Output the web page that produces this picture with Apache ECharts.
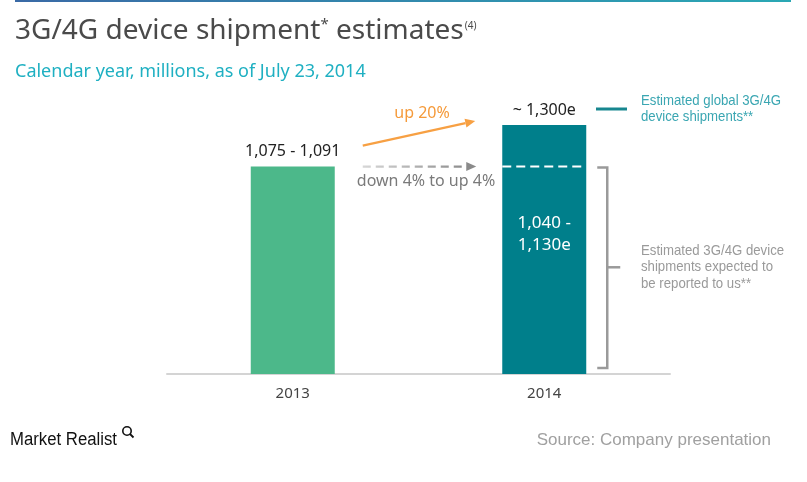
<!DOCTYPE html>
<html><head><meta charset="utf-8">
<script src="https://cdn.jsdelivr.net/npm/echarts@6/dist/echarts.min.js"></script>
<style>html,body{margin:0;padding:0;background:#fff}#c{width:807px;height:482px}</style>
</head><body><div id="c"></div>
<script>
const categories = ['2013', '2014'];
const shipments = [1083, 1300];
const barLabels = ['1,075 - 1,091', '~ 1,300e'];
const reportedRange = '1,040 -\n1,130e';
const reportedLevel = 1083;
const upLabel = 'up 20%';
const flatLabel = 'down 4% to up 4%';
const globalNote = 'Estimated global 3G/4G\ndevice shipments**';
const reportedNote = 'Estimated 3G/4G device\nshipments expected to\nbe reported to us**';
const barColors = ['#4cb88a', '#007f8b'];

const FONT = "'Noto Sans', 'DejaVu Sans', sans-serif";
const SANS = "'Liberation Sans', Arial, sans-serif";

const chart = echarts.init(document.getElementById('c'), null, {renderer: 'canvas'});
chart.setOption({
  animation: false,
  grid: {left: 167, right: 137, top: 125, bottom: 108},
  xAxis: {
    type: 'category', data: categories,
    axisLine: {lineStyle: {color: '#d4d4d4', width: 2}},
    axisTick: {show: false},
    axisLabel: {color: '#444', fontSize: 15, fontFamily: FONT, margin: 12}
  },
  yAxis: {type: 'value', min: 0, max: 1300, show: false, splitLine: {show: false}},
  series: [{
    type: 'bar', barWidth: 84,
    data: shipments.map((v, i) => ({value: v, itemStyle: {color: barColors[i]}})),
    label: {
      show: true, position: 'top', distance: 7,
      formatter: p => barLabels[p.dataIndex],
      color: '#222', fontSize: 16, fontFamily: FONT
    }
  }]
});

const px = (i, v) => chart.convertToPixel({xAxisIndex: 0, yAxisIndex: 0}, [i, v]);
const [x0, yTop0] = px(0, shipments[0]);
const [x1, yTop1] = px(1, shipments[1]);
const [, yBase] = px(0, 0);
const [, yLevel] = px(1, reportedLevel);
const half = 42;

function arrow(xs, ys, xe, ye, color, dashed, gradient) {
  const ang = Math.atan2(ye - ys, xe - xs);
  const L = 10, W = 4.5;
  const bx = xe - L * Math.cos(ang), by = ye - L * Math.sin(ang);
  const nx = -Math.sin(ang), ny = Math.cos(ang);
  const stroke = gradient ? new echarts.graphic.LinearGradient(0, 0, 1, 0, [{offset: 0, color: gradient[0]}, {offset: 1, color: gradient[1]}]) : color;
  return [
    {type: 'line', z: 10, shape: {x1: xs, y1: ys, x2: bx, y2: by}, style: {stroke: stroke, lineWidth: 2.2, lineDash: dashed ? [8, 5] : null}},
    {type: 'polygon', z: 10, shape: {points: [[xe, ye], [bx + nx * W, by + ny * W], [bx - nx * W, by - ny * W]]}, style: {fill: color}}
  ];
}

const g = [];
// top gradient rule
g.push({type: 'rect', shape: {x: 15, y: 0, width: 776, height: 2},
  style: {fill: new echarts.graphic.LinearGradient(0, 0, 1, 0, [{offset: 0, color: '#3a6aa6'}, {offset: 1, color: '#2aa8b4'}])}});
// title
g.push({type: 'text', x: 15, y: 31, style: {
  text: '{t|3G/4G device shipment}{s|*}{t| estimates}{u|(4)}',
  verticalAlign: 'middle',
  rich: {
    t: {fontSize: 28, fontFamily: FONT, fill: '#4a4a4a'},
    s: {fontSize: 15, fontFamily: FONT, fill: '#4a4a4a', verticalAlign: 'top'},
    u: {fontSize: 10, fontFamily: FONT, fill: '#4a4a4a', verticalAlign: 'top', padding: [4, 0, 0, 1]}
  }}});
// subtitle
g.push({type: 'text', x: 15, y: 72, style: {text: 'Calendar year, millions, as of July 23, 2014', fontSize: 18, fontFamily: FONT, fill: '#1fb0c2', verticalAlign: 'middle'}});

// white dashed line on 2014 bar at 2013 level
g.push({type: 'line', z: 10, shape: {x1: x1 - half, y1: yLevel, x2: x1 + half, y2: yLevel}, style: {stroke: '#fff', lineWidth: 2, lineDash: [9, 5]}});
// inner label
g.push({type: 'text', z: 10, x: x1, y: yLevel + 68, style: {text: reportedRange, fontSize: 17, fontFamily: FONT, fill: '#fff', align: 'center', verticalAlign: 'middle', lineHeight: 22}});

// orange arrow
const ax0 = x0 + half + 28, ax1 = x1 - half - 27;
g.push(...arrow(ax0, yTop0 - 21, ax1, yTop1 - 4, '#f7a043', false));
g.push({type: 'text', x: (ax0 + ax1) / 2 + 3, y: yTop1 - 12, style: {text: upLabel, fontSize: 16, fontFamily: FONT, fill: '#f59a3a', align: 'center', verticalAlign: 'middle'}});
// gray dashed arrow
g.push(...arrow(ax0, yLevel, ax1 + 1, yLevel, '#8a8a8a', true, ['#d8d8d8', '#8a8a8a']));
g.push({type: 'text', x: (ax0 + ax1) / 2 + 7, y: yLevel + 15, style: {text: flatLabel, fontSize: 16, fontFamily: FONT, fill: '#7a7a7a', align: 'center', verticalAlign: 'middle'}});

// global marker + note
g.push({type: 'line', shape: {x1: 596, y1: yTop1 - 16, x2: 627, y2: yTop1 - 16}, style: {stroke: '#17868f', lineWidth: 3}});
g.push({type: 'text', x: 641, y: yTop1 - 16, scaleX: 0.88, style: {text: globalNote, fontSize: 15, fontFamily: SANS, fill: '#3aa6b2', verticalAlign: 'middle', lineHeight: 16.5}});

// bracket
const bx = x1 + half + 21;
const yb1 = yBase - 6;
g.push({type: 'polyline', shape: {points: [[bx - 10, yLevel + 1], [bx, yLevel + 1], [bx, yb1], [bx - 10, yb1]]}, style: {stroke: '#9a9a9a', lineWidth: 2.5, fill: null}});
g.push({type: 'line', shape: {x1: bx, y1: (yLevel + yb1) / 2, x2: bx + 13, y2: (yLevel + yb1) / 2}, style: {stroke: '#9a9a9a', lineWidth: 2.5}});
g.push({type: 'text', x: 641, y: (yLevel + yb1) / 2, scaleX: 0.88, style: {text: reportedNote, fontSize: 15, fontFamily: SANS, fill: '#9a9a9a', verticalAlign: 'middle', lineHeight: 16.5}});

// footer
g.push({type: 'text', x: 10, y: 440, scaleX: 0.93, style: {text: 'Market Realist', fontSize: 18, fontFamily: SANS, fill: '#111', verticalAlign: 'middle'}});
g.push({type: 'circle', shape: {cx: 127, cy: 431, r: 4.2}, style: {stroke: '#111', lineWidth: 1.6, fill: null}});
g.push({type: 'line', shape: {x1: 130, y1: 434, x2: 133.5, y2: 437.5}, style: {stroke: '#111', lineWidth: 1.8}});
g.push({type: 'text', x: 771, y: 440, style: {text: 'Source: Company presentation', fontSize: 17, fontFamily: SANS, fill: '#a0a0a0', align: 'right', verticalAlign: 'middle'}});

chart.setOption({graphic: g});
</script>
</body></html>
